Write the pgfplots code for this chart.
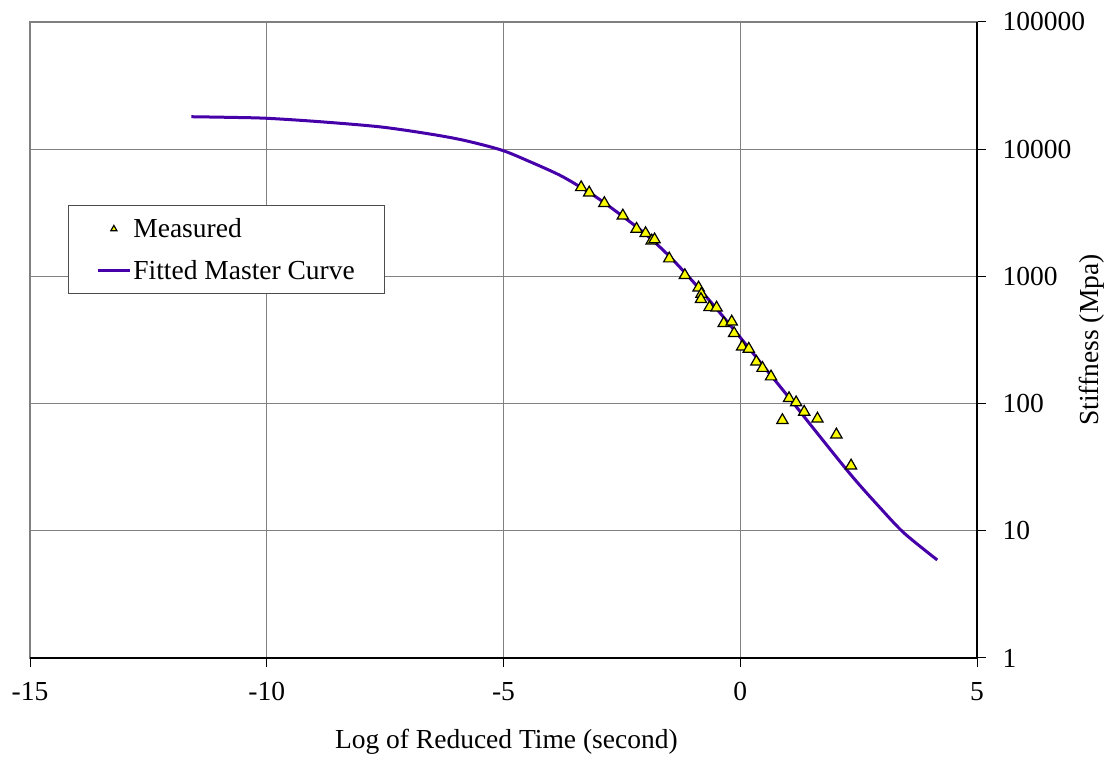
\documentclass[border=0pt]{standalone}
\usepackage{fontspec}
\setmainfont{Liberation Serif}
\usepackage{pgfplots}
\pgfplotsset{compat=1.18}
\definecolor{curvecol}{RGB}{70,0,170}
\definecolor{markfill}{RGB}{250,250,0}
\definecolor{gridcol}{RGB}{128,128,128}
\newcommand{\bigfont}{\fontsize{27.5}{31}\selectfont}
\pgfplotsset{
  measleg/.style={legend image code/.code={\draw[##1, mark size=3.5pt] plot coordinates {(16pt,0pt)};}},
  lineleg/.style={legend image code/.code={\draw[##1] (0pt,0pt) -- (32pt,0pt);}},
}
\begin{document}
\begin{tikzpicture}
\path (-30pt,-101pt) rectangle (1077pt,658pt);
\begin{axis}[
  at={(0pt,0pt)}, anchor=south west,
  scale only axis, width=947pt, height=636pt,
  xmin=-15, xmax=5, ymode=log, ymin=1, ymax=100000,
  xtick={-15,-10,-5,0,5}, xticklabels={-15,-10,-5,0,5},
  ytick={1,10,100,1000,10000,100000},
  yticklabels={1,10,100,1000,10000,100000},
  minor ytick={}, minor y tick style={draw=none},
  xtick pos=bottom, ytick pos=right, yticklabel pos=right,
  tick align=outside, major tick length=9pt,
  tick style={black, line width=1pt},
  grid=major, major grid style={gridcol, line width=1.2pt},
  axis line style={gridcol, line width=1.2pt},
  every tick label/.append style={font=\bigfont},
  xticklabel style={yshift=-12pt},
  yticklabel style={xshift=13pt},
  label style={font=\bigfont, inner sep=0pt},
  xlabel={Log of Reduced Time (second)},
  ylabel={Stiffness (Mpa)},
  xlabel style={at={(axis description cs:0.503,-0.131)}, anchor=center},
  ylabel style={at={(axis description cs:1.1215,0.5)}, anchor=center, rotate=0},
  legend style={at={(rel axis cs:0.04,0.712)}, anchor=north west,
    draw=gridcol!60!black, line width=1pt, font=\bigfont, inner xsep=28pt, inner ysep=11pt,
    cells={anchor=west}, row sep=17pt},
  clip=false,
]
\draw[black, line width=1.3pt] (rel axis cs:0,0) -- (rel axis cs:1,0) -- (rel axis cs:1,1);
\addplot[only marks, mark=triangle*, mark size=6.5pt,
  mark options={fill=markfill, draw=black, line width=1.2pt}, measleg]
coordinates {
(-3.36,5010) (-3.19,4550) (-2.87,3760) (-2.48,3000) (-2.19,2360) (-2.00,2180)
(-1.87,1910) (-1.81,1950) (-1.50,1380) (-1.17,1020) (-0.88,815) (-0.82,727)
(-0.83,661) (-0.65,571) (-0.50,567) (-0.35,428) (-0.18,440) (-0.13,357)
(0.04,280) (0.18,269) (0.34,213) (0.47,190) (0.65,163) (1.03,110)
(1.18,102) (1.35,86) (0.89,74) (1.63,76) (2.03,57) (2.34,32.5)
};
\addlegendentry{Measured}
\addplot[curvecol, line width=3pt, smooth, no markers, lineleg]
coordinates {
(-11.59,18000) (-10.8,17800) (-10,17500) (-8.88,16450) (-7.62,15000)
(-6.63,13300) (-5.86,11800) (-5.05,9860) (-4.45,8000) (-3.82,6270)
(-3.36,5000) (-3.0,4100) (-2.5,3000) (-2.0,2150) (-1.5,1445)
(-1.0,912) (-0.5,556) (0,331) (0.5,195) (1.0,115) (1.667,56)
(2.37,26.6) (2.93,15.5) (3.46,9.6) (4.16,5.9)
};
\addlegendentry{Fitted Master Curve}
\end{axis}
\end{tikzpicture}
\end{document}
